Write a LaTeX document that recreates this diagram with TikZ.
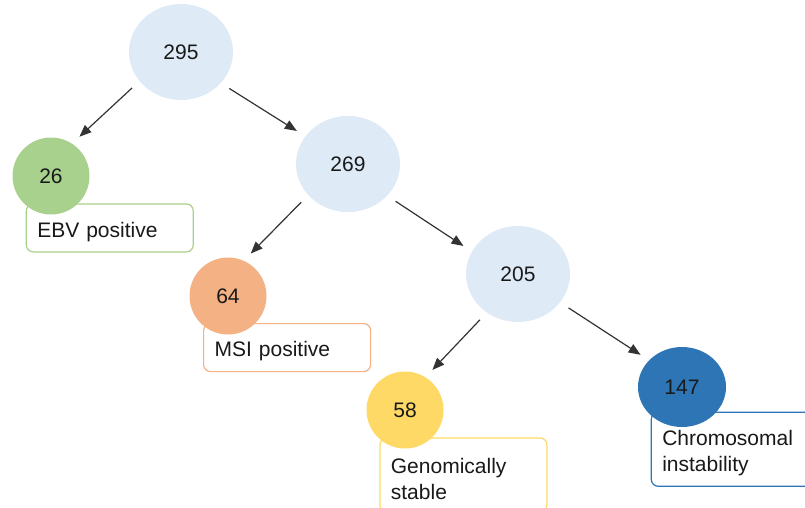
\documentclass[tikz,border=0pt]{standalone}
\usepackage{fontspec}
\setmainfont{Liberation Sans}
\usetikzlibrary{shapes.geometric,arrows.meta}
\definecolor{bubble}{HTML}{DEEAF6}
\definecolor{ebvgreen}{HTML}{A9D18E}
\definecolor{msiorange}{HTML}{F4B183}
\definecolor{gsyellow}{HTML}{FFD966}
\definecolor{cinblue}{HTML}{2E75B6}
\begin{document}
\begin{tikzpicture}[x=1pt,y=-1pt,
	every node/.style={font=\fontsize{21}{26}\selectfont,text=black!90},
	count/.style={ellipse,minimum width=104pt,minimum height=96pt,inner sep=0pt,fill=bubble},
	leaf/.style={ellipse,minimum width=77pt,minimum height=77pt,inner sep=0pt,fill=#1},
	tag/.style={draw=#1,line width=1.2pt,rounded corners=7pt,fill=white,anchor=north west,
		minimum width=167pt,text width=145pt,align=left,inner xsep=11pt,inner ysep=0pt,
		text height=23pt},
	link/.style={draw=black!80,line width=1.2pt,-{Triangle[length=12pt,width=9.5pt]},
		shorten <=10pt,shorten >=10pt}]
	
	\clip (0,0) rectangle (805,508);
	
	% subtype labels
	\node[tag=ebvgreen,minimum height=48pt] (ebv) at (25.7,203.3) {EBV positive};
	\node[tag=msiorange,minimum height=48pt] (msi) at (203,323) {MSI positive};
	\node[tag=gsyellow,minimum height=74pt] (gs) at (379.3,437.3) {Genomically\\stable};
	\node[tag=cinblue,minimum height=74pt] (cin) at (650.7,411.7) {Chromosomal\\instability};
	
	% counts
	\node[count] (n295) at (181,52) {295};
	\node[count] (n269) at (348,164) {269};
	\node[count] (n205) at (518,274) {205};
	
	\node[leaf=ebvgreen] (n26) at (51,176) {26};
	\node[leaf=msiorange] (n64) at (228,296) {64};
	\node[leaf=gsyellow] (n58) at (405,410) {58};
	\node[leaf=cinblue,minimum width=88pt,minimum height=80pt] (n147) at (682,387) {147};
	
	% splits
	\draw[link] (n295.215) -- (n26.57);
	\draw[link] (n295.322) -- (n269.147);
	\draw[link] (n269.218) -- (n64.66);
	\draw[link] (n269.321) -- (n205.154);
	\draw[link] (n205.231) -- (n58.58);
	\draw[link] (n205.326) -- (n147.141);
	
\end{tikzpicture}
\end{document}
